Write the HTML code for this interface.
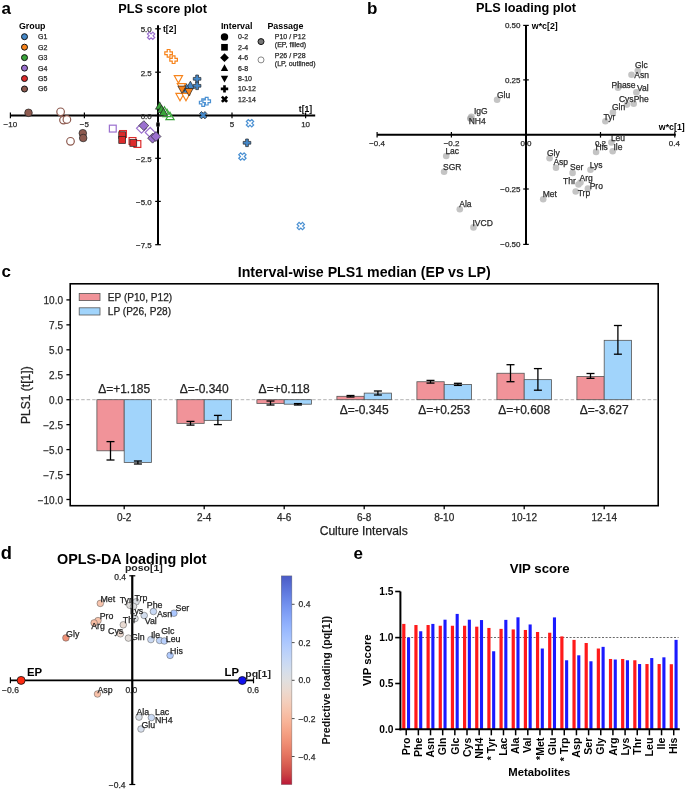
<!DOCTYPE html>
<html><head><meta charset="utf-8"><style>
html,body{margin:0;padding:0;background:#fff;}
svg{display:block;font-family:"Liberation Sans", sans-serif;will-change:transform;}
</style></head><body>
<svg width="685" height="789" viewBox="0 0 685 789">
<rect width="685" height="789" fill="#fff"/>
<text x="1.50" y="13.50" font-size="17" font-weight="bold" text-anchor="start" fill="#000">a</text>
<text x="367.00" y="13.50" font-size="17" font-weight="bold" text-anchor="start" fill="#000">b</text>
<text x="1.50" y="277.30" font-size="17" font-weight="bold" text-anchor="start" fill="#000">c</text>
<text x="353.50" y="558.80" font-size="17" font-weight="bold" text-anchor="start" fill="#000">e</text>
<text x="0.80" y="559.40" font-size="17.5" font-weight="bold" text-anchor="start" fill="#000" textLength="11.2" lengthAdjust="spacingAndGlyphs">d</text>
<text x="162.60" y="13.30" font-size="12.7" font-weight="bold" text-anchor="middle" fill="#000">PLS score plot</text>
<line x1="10.20" y1="115.40" x2="315.20" y2="115.40" stroke="#000" stroke-width="2"/>
<line x1="158.00" y1="25.30" x2="158.00" y2="244.80" stroke="#000" stroke-width="2"/>
<line x1="10.40" y1="112.60" x2="10.40" y2="118.20" stroke="#000" stroke-width="1.2"/>
<line x1="84.40" y1="112.60" x2="84.40" y2="118.20" stroke="#000" stroke-width="1.2"/>
<line x1="158.00" y1="112.60" x2="158.00" y2="118.20" stroke="#000" stroke-width="1.2"/>
<line x1="232.00" y1="112.60" x2="232.00" y2="118.20" stroke="#000" stroke-width="1.2"/>
<line x1="305.60" y1="112.60" x2="305.60" y2="118.20" stroke="#000" stroke-width="1.2"/>
<line x1="155.20" y1="28.80" x2="160.80" y2="28.80" stroke="#000" stroke-width="1.2"/>
<line x1="155.20" y1="72.20" x2="160.80" y2="72.20" stroke="#000" stroke-width="1.2"/>
<line x1="155.20" y1="115.50" x2="160.80" y2="115.50" stroke="#000" stroke-width="1.2"/>
<line x1="155.20" y1="158.30" x2="160.80" y2="158.30" stroke="#000" stroke-width="1.2"/>
<line x1="155.20" y1="201.40" x2="160.80" y2="201.40" stroke="#000" stroke-width="1.2"/>
<line x1="155.20" y1="244.70" x2="160.80" y2="244.70" stroke="#000" stroke-width="1.2"/>
<text x="10.40" y="127.14" font-size="8.0" text-anchor="middle" fill="#2a2a2a" stroke="#2a2a2a" stroke-width="0.25">−10</text>
<text x="84.40" y="127.14" font-size="8.0" text-anchor="middle" fill="#2a2a2a" stroke="#2a2a2a" stroke-width="0.25">−5</text>
<text x="158.00" y="127.14" font-size="8.0" text-anchor="middle" fill="#2a2a2a" stroke="#2a2a2a" stroke-width="0.25">0</text>
<text x="232.00" y="127.14" font-size="8.0" text-anchor="middle" fill="#2a2a2a" stroke="#2a2a2a" stroke-width="0.25">5</text>
<text x="305.60" y="127.14" font-size="8.0" text-anchor="middle" fill="#2a2a2a" stroke="#2a2a2a" stroke-width="0.25">10</text>
<text x="151.80" y="32.14" font-size="8.0" text-anchor="end" fill="#2a2a2a" stroke="#2a2a2a" stroke-width="0.25">5.0</text>
<text x="151.80" y="75.54" font-size="8.0" text-anchor="end" fill="#2a2a2a" stroke="#2a2a2a" stroke-width="0.25">2.5</text>
<text x="151.80" y="118.84" font-size="8.0" text-anchor="end" fill="#2a2a2a" stroke="#2a2a2a" stroke-width="0.25">0.0</text>
<text x="151.80" y="161.64" font-size="8.0" text-anchor="end" fill="#2a2a2a" stroke="#2a2a2a" stroke-width="0.25">−2.5</text>
<text x="151.80" y="204.74" font-size="8.0" text-anchor="end" fill="#2a2a2a" stroke="#2a2a2a" stroke-width="0.25">−5.0</text>
<text x="151.80" y="248.04" font-size="8.0" text-anchor="end" fill="#2a2a2a" stroke="#2a2a2a" stroke-width="0.25">−7.5</text>
<text x="163.00" y="32.30" font-size="8.6" font-weight="bold" text-anchor="start" fill="#000">t[2]</text>
<text x="298.80" y="112.40" font-size="8.6" font-weight="bold" text-anchor="start" fill="#000">t[1]</text>
<text x="18.90" y="28.90" font-size="8.9" font-weight="bold" text-anchor="start" fill="#000">Group</text>
<circle cx="24.50" cy="36.70" r="3.0" fill="#4588c8" stroke="#111" stroke-width="1.0"/>
<text x="38.00" y="39.19" font-size="7" text-anchor="start" fill="#2a2a2a" stroke="#2a2a2a" stroke-width="0.25">G1</text>
<circle cx="24.50" cy="47.16" r="3.0" fill="#f7841c" stroke="#111" stroke-width="1.0"/>
<text x="38.00" y="49.65" font-size="7" text-anchor="start" fill="#2a2a2a" stroke="#2a2a2a" stroke-width="0.25">G2</text>
<circle cx="24.50" cy="57.62" r="3.0" fill="#3aa53a" stroke="#111" stroke-width="1.0"/>
<text x="38.00" y="60.11" font-size="7" text-anchor="start" fill="#2a2a2a" stroke="#2a2a2a" stroke-width="0.25">G3</text>
<circle cx="24.50" cy="68.08" r="3.0" fill="#9b70cf" stroke="#111" stroke-width="1.0"/>
<text x="38.00" y="70.57" font-size="7" text-anchor="start" fill="#2a2a2a" stroke="#2a2a2a" stroke-width="0.25">G4</text>
<circle cx="24.50" cy="78.54" r="3.0" fill="#dc2b2b" stroke="#111" stroke-width="1.0"/>
<text x="38.00" y="81.03" font-size="7" text-anchor="start" fill="#2a2a2a" stroke="#2a2a2a" stroke-width="0.25">G5</text>
<circle cx="24.50" cy="89.00" r="3.0" fill="#8d5a4f" stroke="#111" stroke-width="1.0"/>
<text x="38.00" y="91.48" font-size="7" text-anchor="start" fill="#2a2a2a" stroke="#2a2a2a" stroke-width="0.25">G6</text>
<text x="220.90" y="29.00" font-size="8.9" font-weight="bold" text-anchor="start" fill="#000">Interval</text>
<circle cx="224.50" cy="36.90" r="3.7" fill="#000" stroke="none" stroke-width="0"/>
<text x="238.00" y="39.38" font-size="7" text-anchor="start" fill="#2a2a2a" stroke="#2a2a2a" stroke-width="0.25">0-2</text>
<rect x="221.17" y="43.97" width="6.66" height="6.66" fill="#000" stroke="none" stroke-width="0"/>
<text x="238.00" y="49.78" font-size="7" text-anchor="start" fill="#2a2a2a" stroke="#2a2a2a" stroke-width="0.25">2-4</text>
<path d="M224.50,53.33L228.87,57.70L224.50,62.07L220.13,57.70Z" fill="#000" stroke="none" stroke-width="0"/>
<text x="238.00" y="60.19" font-size="7" text-anchor="start" fill="#2a2a2a" stroke="#2a2a2a" stroke-width="0.25">4-6</text>
<path d="M224.50,64.21L228.20,70.88L220.80,70.88Z" fill="#000" stroke="none" stroke-width="0"/>
<text x="238.00" y="70.58" font-size="7" text-anchor="start" fill="#2a2a2a" stroke="#2a2a2a" stroke-width="0.25">6-8</text>
<path d="M224.50,82.39L228.20,75.72L220.80,75.72Z" fill="#000" stroke="none" stroke-width="0"/>
<text x="238.00" y="80.98" font-size="7" text-anchor="start" fill="#2a2a2a" stroke="#2a2a2a" stroke-width="0.25">8-10</text>
<path d="M223.17,85.20H225.83V87.57H228.20V90.23H225.83V92.60H223.17V90.23H220.80V87.57H223.17Z" fill="#000" stroke="none" stroke-width="0"/>
<text x="238.00" y="91.39" font-size="7" text-anchor="start" fill="#2a2a2a" stroke="#2a2a2a" stroke-width="0.25">10-12</text>
<path d="M223.17,95.60H225.83V97.97H228.20V100.63H225.83V103.00H223.17V100.63H220.80V97.97H223.17Z" fill="#000" stroke="none" stroke-width="0" transform="rotate(45 224.50 99.30)"/>
<text x="238.00" y="101.79" font-size="7" text-anchor="start" fill="#2a2a2a" stroke="#2a2a2a" stroke-width="0.25">12-14</text>
<text x="267.40" y="29.00" font-size="8.9" font-weight="bold" text-anchor="start" fill="#000">Passage</text>
<circle cx="261.00" cy="41.60" r="3.0" fill="#777" stroke="#111" stroke-width="1.0"/>
<circle cx="261.00" cy="59.90" r="3.0" fill="#fff" stroke="#555" stroke-width="0.7"/>
<text x="274.80" y="39.38" font-size="7" text-anchor="start" fill="#2a2a2a" stroke="#2a2a2a" stroke-width="0.25">P10 / P12</text>
<text x="274.80" y="47.48" font-size="7" text-anchor="start" fill="#2a2a2a" stroke="#2a2a2a" stroke-width="0.25">(EP, filled)</text>
<text x="274.80" y="57.78" font-size="7" text-anchor="start" fill="#2a2a2a" stroke="#2a2a2a" stroke-width="0.25">P26 / P28</text>
<text x="274.80" y="65.89" font-size="7" text-anchor="start" fill="#2a2a2a" stroke="#2a2a2a" stroke-width="0.25">(LP, outlined)</text>
<circle cx="28.50" cy="112.80" r="3.8" fill="#8d5a4f" stroke="#222" stroke-width="0.7"/>
<circle cx="60.60" cy="111.80" r="3.8" fill="#fff" stroke="#8d5a4f" stroke-width="1.2"/>
<circle cx="63.50" cy="120.10" r="3.8" fill="#fff" stroke="#8d5a4f" stroke-width="1.2"/>
<circle cx="66.90" cy="119.50" r="3.8" fill="#fff" stroke="#8d5a4f" stroke-width="1.2"/>
<circle cx="70.50" cy="141.30" r="3.8" fill="#fff" stroke="#8d5a4f" stroke-width="1.2"/>
<circle cx="82.80" cy="133.20" r="3.8" fill="#8d5a4f" stroke="#222" stroke-width="0.7"/>
<circle cx="83.20" cy="138.00" r="3.8" fill="#8d5a4f" stroke="#222" stroke-width="0.7"/>
<rect x="109.38" y="125.18" width="6.84" height="6.84" fill="#fff" stroke="#9b70cf" stroke-width="1.2"/>
<rect x="119.58" y="130.58" width="6.84" height="6.84" fill="#fff" stroke="#dc2b2b" stroke-width="1.2"/>
<rect x="118.78" y="131.78" width="6.84" height="6.84" fill="#dc2b2b" stroke="#222" stroke-width="0.7"/>
<rect x="118.78" y="136.58" width="6.84" height="6.84" fill="#dc2b2b" stroke="#222" stroke-width="0.7"/>
<rect x="129.08" y="137.58" width="6.84" height="6.84" fill="#fff" stroke="#dc2b2b" stroke-width="1.2"/>
<rect x="133.98" y="140.58" width="6.84" height="6.84" fill="#fff" stroke="#dc2b2b" stroke-width="1.2"/>
<rect x="129.88" y="139.48" width="6.84" height="6.84" fill="#dc2b2b" stroke="#222" stroke-width="0.7"/>
<path d="M141.50,123.36L146.44,128.30L141.50,133.25L136.56,128.30Z" fill="#fff" stroke="#9b70cf" stroke-width="1.2"/>
<path d="M143.80,120.66L148.75,125.60L143.80,130.54L138.86,125.60Z" fill="#9b70cf" stroke="#222" stroke-width="0.7"/>
<path d="M150.20,127.46L155.14,132.40L150.20,137.34L145.25,132.40Z" fill="#fff" stroke="#9b70cf" stroke-width="1.2"/>
<path d="M152.60,133.25L157.54,138.20L152.60,143.14L147.66,138.20Z" fill="#9b70cf" stroke="#222" stroke-width="0.7"/>
<path d="M156.00,131.56L160.94,136.50L156.00,141.44L151.06,136.50Z" fill="#9b70cf" stroke="#222" stroke-width="0.7"/>
<path d="M149.73,32.00H152.47V34.43H154.90V37.17H152.47V39.60H149.73V37.17H147.30V34.43H149.73Z" fill="#fff" stroke="#9b70cf" stroke-width="1.2" transform="rotate(45 151.10 35.80)"/>
<path d="M170.00,112.29L174.10,119.67L165.90,119.67Z" fill="#fff" stroke="#3aa53a" stroke-width="1.2"/>
<path d="M167.00,109.19L171.10,116.58L162.90,116.58Z" fill="#fff" stroke="#3aa53a" stroke-width="1.2"/>
<path d="M164.50,106.69L168.60,114.08L160.40,114.08Z" fill="#fff" stroke="#3aa53a" stroke-width="1.2"/>
<path d="M159.60,101.79L163.70,109.17L155.50,109.17Z" fill="#3aa53a" stroke="#222" stroke-width="0.7"/>
<path d="M161.50,105.19L165.60,112.58L157.40,112.58Z" fill="#3aa53a" stroke="#222" stroke-width="0.7"/>
<path d="M163.50,108.19L167.60,115.58L159.40,115.58Z" fill="#3aa53a" stroke="#222" stroke-width="0.7"/>
<path d="M167.23,49.50H169.97V51.93H172.40V54.67H169.97V57.10H167.23V54.67H164.80V51.93H167.23Z" fill="#fff" stroke="#f7841c" stroke-width="1.2"/>
<path d="M172.23,55.90H174.97V58.33H177.40V61.07H174.97V63.50H172.23V61.07H169.80V58.33H172.23Z" fill="#fff" stroke="#f7841c" stroke-width="1.2"/>
<path d="M190.40,81.19L194.50,88.58L186.30,88.58Z" fill="#4588c8" stroke="#222" stroke-width="0.7"/>
<path d="M186.40,83.69L190.50,91.08L182.30,91.08Z" fill="#4588c8" stroke="#222" stroke-width="0.7"/>
<path d="M186.00,87.69L190.10,95.08L181.90,95.08Z" fill="#4588c8" stroke="#222" stroke-width="0.7"/>
<path d="M178.40,83.10L182.50,75.72L174.30,75.72Z" fill="#fff" stroke="#f7841c" stroke-width="1.2"/>
<path d="M181.40,91.10L185.50,83.72L177.30,83.72Z" fill="#fff" stroke="#f7841c" stroke-width="1.2"/>
<path d="M180.00,100.81L184.10,93.42L175.90,93.42Z" fill="#fff" stroke="#f7841c" stroke-width="1.2"/>
<path d="M186.00,100.81L190.10,93.42L181.90,93.42Z" fill="#fff" stroke="#f7841c" stroke-width="1.2"/>
<path d="M182.00,93.50L186.10,86.12L177.90,86.12Z" fill="#f7841c" stroke="#222" stroke-width="0.7"/>
<path d="M189.00,95.91L193.10,88.52L184.90,88.52Z" fill="#f7841c" stroke="#222" stroke-width="0.7"/>
<path d="M195.73,75.00H198.47V77.43H200.90V80.17H198.47V82.60H195.73V80.17H193.30V77.43H195.73Z" fill="#4588c8" stroke="#222" stroke-width="0.7"/>
<path d="M195.73,82.00H198.47V84.43H200.90V87.17H198.47V89.60H195.73V87.17H193.30V84.43H195.73Z" fill="#4588c8" stroke="#222" stroke-width="0.7"/>
<path d="M201.83,98.80H204.57V101.23H207.00V103.97H204.57V106.40H201.83V103.97H199.40V101.23H201.83Z" fill="#fff" stroke="#4a90d2" stroke-width="1.2"/>
<path d="M205.33,97.40H208.07V99.83H210.50V102.57H208.07V105.00H205.33V102.57H202.90V99.83H205.33Z" fill="#fff" stroke="#4a90d2" stroke-width="1.2"/>
<path d="M201.83,111.40H204.57V113.83H207.00V116.57H204.57V119.00H201.83V116.57H199.40V113.83H201.83Z" fill="#4588c8" stroke="#222" stroke-width="0.7" transform="rotate(45 203.20 115.20)"/>
<path d="M248.63,119.40H251.37V121.83H253.80V124.57H251.37V127.00H248.63V124.57H246.20V121.83H248.63Z" fill="#fff" stroke="#4a90d2" stroke-width="1.2" transform="rotate(45 250.00 123.20)"/>
<path d="M245.63,139.00H248.37V141.43H250.80V144.17H248.37V146.60H245.63V144.17H243.20V141.43H245.63Z" fill="#4588c8" stroke="#222" stroke-width="0.7"/>
<path d="M241.03,152.70H243.77V155.13H246.20V157.87H243.77V160.30H241.03V157.87H238.60V155.13H241.03Z" fill="#fff" stroke="#4a90d2" stroke-width="1.2" transform="rotate(45 242.40 156.50)"/>
<path d="M299.43,222.30H302.17V224.73H304.60V227.47H302.17V229.90H299.43V227.47H297.00V224.73H299.43Z" fill="#fff" stroke="#4a90d2" stroke-width="1.2" transform="rotate(45 300.80 226.10)"/>
<text x="526.00" y="12.40" font-size="12.7" font-weight="bold" text-anchor="middle" fill="#000">PLS loading plot</text>
<line x1="377.10" y1="134.80" x2="675.80" y2="134.80" stroke="#000" stroke-width="2"/>
<line x1="526.00" y1="25.40" x2="526.00" y2="244.60" stroke="#000" stroke-width="2"/>
<line x1="377.10" y1="132.00" x2="377.10" y2="137.60" stroke="#000" stroke-width="1.2"/>
<line x1="451.40" y1="132.00" x2="451.40" y2="137.60" stroke="#000" stroke-width="1.2"/>
<line x1="526.00" y1="132.00" x2="526.00" y2="137.60" stroke="#000" stroke-width="1.2"/>
<line x1="600.50" y1="132.00" x2="600.50" y2="137.60" stroke="#000" stroke-width="1.2"/>
<line x1="674.80" y1="132.00" x2="674.80" y2="137.60" stroke="#000" stroke-width="1.2"/>
<line x1="523.20" y1="25.40" x2="528.80" y2="25.40" stroke="#000" stroke-width="1.2"/>
<line x1="523.20" y1="79.90" x2="528.80" y2="79.90" stroke="#000" stroke-width="1.2"/>
<line x1="523.20" y1="134.60" x2="528.80" y2="134.60" stroke="#000" stroke-width="1.2"/>
<line x1="523.20" y1="189.00" x2="528.80" y2="189.00" stroke="#000" stroke-width="1.2"/>
<line x1="523.20" y1="244.40" x2="528.80" y2="244.40" stroke="#000" stroke-width="1.2"/>
<text x="377.10" y="145.94" font-size="8.0" text-anchor="middle" fill="#2a2a2a" stroke="#2a2a2a" stroke-width="0.25">−0.4</text>
<text x="451.60" y="145.94" font-size="8.0" text-anchor="middle" fill="#2a2a2a" stroke="#2a2a2a" stroke-width="0.25">−0.2</text>
<text x="526.00" y="145.94" font-size="8.0" text-anchor="middle" fill="#2a2a2a" stroke="#2a2a2a" stroke-width="0.25">0.0</text>
<text x="600.50" y="145.94" font-size="8.0" text-anchor="middle" fill="#2a2a2a" stroke="#2a2a2a" stroke-width="0.25">0.2</text>
<text x="674.30" y="145.94" font-size="8.0" text-anchor="middle" fill="#2a2a2a" stroke="#2a2a2a" stroke-width="0.25">0.4</text>
<text x="520.50" y="28.24" font-size="8.0" text-anchor="end" fill="#2a2a2a" stroke="#2a2a2a" stroke-width="0.25">0.50</text>
<text x="520.50" y="82.74" font-size="8.0" text-anchor="end" fill="#2a2a2a" stroke="#2a2a2a" stroke-width="0.25">0.25</text>
<text x="520.50" y="192.14" font-size="8.0" text-anchor="end" fill="#2a2a2a" stroke="#2a2a2a" stroke-width="0.25">−0.25</text>
<text x="520.50" y="247.04" font-size="8.0" text-anchor="end" fill="#2a2a2a" stroke="#2a2a2a" stroke-width="0.25">−0.50</text>
<text x="531.80" y="28.90" font-size="8.8" font-weight="bold" text-anchor="start" fill="#000">w*c[2]</text>
<text x="658.80" y="129.90" font-size="8.8" font-weight="bold" text-anchor="start" fill="#000">w*c[1]</text>
<circle cx="497.10" cy="99.80" r="3.3" fill="#c4c4c4" stroke="none" stroke-width="0.8"/>
<circle cx="471.40" cy="116.80" r="3.3" fill="#c4c4c4" stroke="none" stroke-width="0.8"/>
<circle cx="637.80" cy="70.80" r="3.3" fill="#c4c4c4" stroke="none" stroke-width="0.8"/>
<circle cx="631.50" cy="74.80" r="3.3" fill="#c4c4c4" stroke="none" stroke-width="0.8"/>
<circle cx="618.00" cy="87.80" r="3.3" fill="#c4c4c4" stroke="none" stroke-width="0.8"/>
<circle cx="636.40" cy="92.40" r="3.3" fill="#c4c4c4" stroke="none" stroke-width="0.8"/>
<circle cx="633.70" cy="103.70" r="3.3" fill="#c4c4c4" stroke="none" stroke-width="0.8"/>
<circle cx="627.00" cy="104.60" r="3.3" fill="#c4c4c4" stroke="none" stroke-width="0.8"/>
<circle cx="612.90" cy="112.60" r="3.3" fill="#c4c4c4" stroke="none" stroke-width="0.8"/>
<circle cx="605.40" cy="121.30" r="3.3" fill="#c4c4c4" stroke="none" stroke-width="0.8"/>
<circle cx="611.40" cy="142.50" r="3.3" fill="#c4c4c4" stroke="none" stroke-width="0.8"/>
<circle cx="596.10" cy="151.90" r="3.3" fill="#c4c4c4" stroke="none" stroke-width="0.8"/>
<circle cx="612.70" cy="151.20" r="3.3" fill="#c4c4c4" stroke="none" stroke-width="0.8"/>
<circle cx="549.60" cy="158.30" r="3.3" fill="#c4c4c4" stroke="none" stroke-width="0.8"/>
<circle cx="556.00" cy="167.80" r="3.3" fill="#c4c4c4" stroke="none" stroke-width="0.8"/>
<circle cx="572.60" cy="172.90" r="3.3" fill="#c4c4c4" stroke="none" stroke-width="0.8"/>
<circle cx="590.50" cy="169.80" r="3.3" fill="#c4c4c4" stroke="none" stroke-width="0.8"/>
<circle cx="578.50" cy="184.50" r="3.3" fill="#c4c4c4" stroke="none" stroke-width="0.8"/>
<circle cx="580.50" cy="182.50" r="3.3" fill="#c4c4c4" stroke="none" stroke-width="0.8"/>
<circle cx="587.90" cy="188.50" r="3.3" fill="#c4c4c4" stroke="none" stroke-width="0.8"/>
<circle cx="575.70" cy="191.50" r="3.3" fill="#c4c4c4" stroke="none" stroke-width="0.8"/>
<circle cx="543.20" cy="199.20" r="3.3" fill="#c4c4c4" stroke="none" stroke-width="0.8"/>
<circle cx="446.20" cy="156.00" r="3.3" fill="#c4c4c4" stroke="none" stroke-width="0.8"/>
<circle cx="444.10" cy="171.70" r="3.3" fill="#c4c4c4" stroke="none" stroke-width="0.8"/>
<circle cx="459.80" cy="209.30" r="3.3" fill="#c4c4c4" stroke="none" stroke-width="0.8"/>
<circle cx="473.50" cy="227.40" r="3.3" fill="#c4c4c4" stroke="none" stroke-width="0.8"/>
<circle cx="470.50" cy="118.50" r="3.3" fill="#aaaaaa" stroke="none" stroke-width="0.8"/>
<text x="497.00" y="97.62" font-size="8.5" text-anchor="start" fill="#2a2a2a" stroke="#2a2a2a" stroke-width="0.25">Glu</text>
<text x="474.00" y="114.02" font-size="8.5" text-anchor="start" fill="#2a2a2a" stroke="#2a2a2a" stroke-width="0.25">IgG</text>
<text x="468.70" y="123.92" font-size="8.5" text-anchor="start" fill="#2a2a2a" stroke="#2a2a2a" stroke-width="0.25">NH4</text>
<text x="635.00" y="67.92" font-size="8.5" text-anchor="start" fill="#2a2a2a" stroke="#2a2a2a" stroke-width="0.25">Glc</text>
<text x="634.30" y="78.42" font-size="8.5" text-anchor="start" fill="#2a2a2a" stroke="#2a2a2a" stroke-width="0.25">Asn</text>
<text x="611.50" y="87.92" font-size="8.5" text-anchor="start" fill="#2a2a2a" stroke="#2a2a2a" stroke-width="0.25">Phase</text>
<text x="637.00" y="91.32" font-size="8.5" text-anchor="start" fill="#2a2a2a" stroke="#2a2a2a" stroke-width="0.25">Val</text>
<text x="633.70" y="101.62" font-size="8.5" text-anchor="start" fill="#2a2a2a" stroke="#2a2a2a" stroke-width="0.25">Phe</text>
<text x="618.90" y="101.62" font-size="8.5" text-anchor="start" fill="#2a2a2a" stroke="#2a2a2a" stroke-width="0.25">Cys</text>
<text x="612.00" y="110.32" font-size="8.5" text-anchor="start" fill="#2a2a2a" stroke="#2a2a2a" stroke-width="0.25">Gln</text>
<text x="603.50" y="120.32" font-size="8.5" text-anchor="start" fill="#2a2a2a" stroke="#2a2a2a" stroke-width="0.25">Tyr</text>
<text x="610.90" y="140.92" font-size="8.5" text-anchor="start" fill="#2a2a2a" stroke="#2a2a2a" stroke-width="0.25">Leu</text>
<text x="595.60" y="149.82" font-size="8.5" text-anchor="start" fill="#2a2a2a" stroke="#2a2a2a" stroke-width="0.25">His</text>
<text x="613.50" y="149.82" font-size="8.5" text-anchor="start" fill="#2a2a2a" stroke="#2a2a2a" stroke-width="0.25">Ile</text>
<text x="547.00" y="155.72" font-size="8.5" text-anchor="start" fill="#2a2a2a" stroke="#2a2a2a" stroke-width="0.25">Gly</text>
<text x="553.40" y="164.62" font-size="8.5" text-anchor="start" fill="#2a2a2a" stroke="#2a2a2a" stroke-width="0.25">Asp</text>
<text x="570.00" y="169.82" font-size="8.5" text-anchor="start" fill="#2a2a2a" stroke="#2a2a2a" stroke-width="0.25">Ser</text>
<text x="589.70" y="168.22" font-size="8.5" text-anchor="start" fill="#2a2a2a" stroke="#2a2a2a" stroke-width="0.25">Lys</text>
<text x="563.10" y="183.82" font-size="8.5" text-anchor="start" fill="#2a2a2a" stroke="#2a2a2a" stroke-width="0.25">Thr</text>
<text x="579.50" y="181.32" font-size="8.5" text-anchor="start" fill="#2a2a2a" stroke="#2a2a2a" stroke-width="0.25">Arg</text>
<text x="589.70" y="189.42" font-size="8.5" text-anchor="start" fill="#2a2a2a" stroke="#2a2a2a" stroke-width="0.25">Pro</text>
<text x="577.70" y="195.82" font-size="8.5" text-anchor="start" fill="#2a2a2a" stroke="#2a2a2a" stroke-width="0.25">Trp</text>
<text x="542.70" y="197.12" font-size="8.5" text-anchor="start" fill="#2a2a2a" stroke="#2a2a2a" stroke-width="0.25">Met</text>
<text x="445.40" y="153.72" font-size="8.5" text-anchor="start" fill="#2a2a2a" stroke="#2a2a2a" stroke-width="0.25">Lac</text>
<text x="443.00" y="169.52" font-size="8.5" text-anchor="start" fill="#2a2a2a" stroke="#2a2a2a" stroke-width="0.25">SGR</text>
<text x="459.30" y="207.02" font-size="8.5" text-anchor="start" fill="#2a2a2a" stroke="#2a2a2a" stroke-width="0.25">Ala</text>
<text x="472.50" y="225.52" font-size="8.5" text-anchor="start" fill="#2a2a2a" stroke="#2a2a2a" stroke-width="0.25">IVCD</text>
<text x="364.20" y="277.40" font-size="14.2" font-weight="bold" text-anchor="middle" fill="#000">Interval-wise PLS1 median (EP vs LP)</text>
<line x1="70.20" y1="399.70" x2="658.20" y2="399.70" stroke="#aaa" stroke-width="0.9" stroke-dasharray="3.5,2"/>
<rect x="96.90" y="399.70" width="27.30" height="51.10" fill="#f19399" stroke="#555" stroke-width="0.8"/>
<rect x="124.20" y="399.70" width="27.30" height="62.77" fill="#a1d4fb" stroke="#555" stroke-width="0.8"/>
<line x1="110.50" y1="441.60" x2="110.50" y2="460.00" stroke="#000" stroke-width="1.3"/>
<line x1="106.50" y1="441.60" x2="114.50" y2="441.60" stroke="#000" stroke-width="1.3"/>
<line x1="106.50" y1="460.00" x2="114.50" y2="460.00" stroke="#000" stroke-width="1.3"/>
<line x1="137.90" y1="461.00" x2="137.90" y2="464.00" stroke="#000" stroke-width="1.3"/>
<line x1="133.90" y1="461.00" x2="141.90" y2="461.00" stroke="#000" stroke-width="1.3"/>
<line x1="133.90" y1="464.00" x2="141.90" y2="464.00" stroke="#000" stroke-width="1.3"/>
<text x="124.20" y="392.90" font-size="12" text-anchor="middle" fill="#222" stroke="#222" stroke-width="0.25">Δ=+1.185</text>
<rect x="176.90" y="399.70" width="27.30" height="23.65" fill="#f19399" stroke="#555" stroke-width="0.8"/>
<rect x="204.20" y="399.70" width="27.30" height="20.66" fill="#a1d4fb" stroke="#555" stroke-width="0.8"/>
<line x1="190.50" y1="421.40" x2="190.50" y2="425.10" stroke="#000" stroke-width="1.3"/>
<line x1="186.50" y1="421.40" x2="194.50" y2="421.40" stroke="#000" stroke-width="1.3"/>
<line x1="186.50" y1="425.10" x2="194.50" y2="425.10" stroke="#000" stroke-width="1.3"/>
<line x1="217.90" y1="415.40" x2="217.90" y2="424.60" stroke="#000" stroke-width="1.3"/>
<line x1="213.90" y1="415.40" x2="221.90" y2="415.40" stroke="#000" stroke-width="1.3"/>
<line x1="213.90" y1="424.60" x2="221.90" y2="424.60" stroke="#000" stroke-width="1.3"/>
<text x="204.20" y="392.90" font-size="12" text-anchor="middle" fill="#222" stroke="#222" stroke-width="0.25">Δ=-0.340</text>
<rect x="256.90" y="399.70" width="27.30" height="3.69" fill="#f19399" stroke="#555" stroke-width="0.8"/>
<rect x="284.20" y="399.70" width="27.30" height="4.49" fill="#a1d4fb" stroke="#555" stroke-width="0.8"/>
<line x1="270.50" y1="401.00" x2="270.50" y2="405.00" stroke="#000" stroke-width="1.3"/>
<line x1="266.50" y1="401.00" x2="274.50" y2="401.00" stroke="#000" stroke-width="1.3"/>
<line x1="266.50" y1="405.00" x2="274.50" y2="405.00" stroke="#000" stroke-width="1.3"/>
<line x1="297.90" y1="403.60" x2="297.90" y2="405.00" stroke="#000" stroke-width="1.3"/>
<line x1="293.90" y1="403.60" x2="301.90" y2="403.60" stroke="#000" stroke-width="1.3"/>
<line x1="293.90" y1="405.00" x2="301.90" y2="405.00" stroke="#000" stroke-width="1.3"/>
<text x="284.20" y="392.90" font-size="12" text-anchor="middle" fill="#222" stroke="#222" stroke-width="0.25">Δ=+0.118</text>
<rect x="336.90" y="396.31" width="27.30" height="3.39" fill="#f19399" stroke="#555" stroke-width="0.8"/>
<rect x="364.20" y="393.11" width="27.30" height="6.59" fill="#a1d4fb" stroke="#555" stroke-width="0.8"/>
<line x1="350.50" y1="395.50" x2="350.50" y2="397.00" stroke="#000" stroke-width="1.3"/>
<line x1="346.50" y1="395.50" x2="354.50" y2="395.50" stroke="#000" stroke-width="1.3"/>
<line x1="346.50" y1="397.00" x2="354.50" y2="397.00" stroke="#000" stroke-width="1.3"/>
<line x1="377.90" y1="391.00" x2="377.90" y2="395.00" stroke="#000" stroke-width="1.3"/>
<line x1="373.90" y1="391.00" x2="381.90" y2="391.00" stroke="#000" stroke-width="1.3"/>
<line x1="373.90" y1="395.00" x2="381.90" y2="395.00" stroke="#000" stroke-width="1.3"/>
<text x="364.20" y="414.00" font-size="12" text-anchor="middle" fill="#222" stroke="#222" stroke-width="0.25">Δ=-0.345</text>
<rect x="416.90" y="381.74" width="27.30" height="17.96" fill="#f19399" stroke="#555" stroke-width="0.8"/>
<rect x="444.20" y="384.43" width="27.30" height="15.27" fill="#a1d4fb" stroke="#555" stroke-width="0.8"/>
<line x1="430.50" y1="380.40" x2="430.50" y2="383.10" stroke="#000" stroke-width="1.3"/>
<line x1="426.50" y1="380.40" x2="434.50" y2="380.40" stroke="#000" stroke-width="1.3"/>
<line x1="426.50" y1="383.10" x2="434.50" y2="383.10" stroke="#000" stroke-width="1.3"/>
<line x1="457.90" y1="383.30" x2="457.90" y2="385.40" stroke="#000" stroke-width="1.3"/>
<line x1="453.90" y1="383.30" x2="461.90" y2="383.30" stroke="#000" stroke-width="1.3"/>
<line x1="453.90" y1="385.40" x2="461.90" y2="385.40" stroke="#000" stroke-width="1.3"/>
<text x="444.20" y="414.00" font-size="12" text-anchor="middle" fill="#222" stroke="#222" stroke-width="0.25">Δ=+0.253</text>
<rect x="496.90" y="373.25" width="27.30" height="26.45" fill="#f19399" stroke="#555" stroke-width="0.8"/>
<rect x="524.20" y="379.64" width="27.30" height="20.06" fill="#a1d4fb" stroke="#555" stroke-width="0.8"/>
<line x1="510.50" y1="364.70" x2="510.50" y2="381.70" stroke="#000" stroke-width="1.3"/>
<line x1="506.50" y1="364.70" x2="514.50" y2="364.70" stroke="#000" stroke-width="1.3"/>
<line x1="506.50" y1="381.70" x2="514.50" y2="381.70" stroke="#000" stroke-width="1.3"/>
<line x1="537.90" y1="368.60" x2="537.90" y2="390.20" stroke="#000" stroke-width="1.3"/>
<line x1="533.90" y1="368.60" x2="541.90" y2="368.60" stroke="#000" stroke-width="1.3"/>
<line x1="533.90" y1="390.20" x2="541.90" y2="390.20" stroke="#000" stroke-width="1.3"/>
<text x="524.20" y="414.00" font-size="12" text-anchor="middle" fill="#222" stroke="#222" stroke-width="0.25">Δ=+0.608</text>
<rect x="576.90" y="376.45" width="27.30" height="23.25" fill="#f19399" stroke="#555" stroke-width="0.8"/>
<rect x="604.20" y="340.32" width="27.30" height="59.38" fill="#a1d4fb" stroke="#555" stroke-width="0.8"/>
<line x1="590.50" y1="373.50" x2="590.50" y2="378.30" stroke="#000" stroke-width="1.3"/>
<line x1="586.50" y1="373.50" x2="594.50" y2="373.50" stroke="#000" stroke-width="1.3"/>
<line x1="586.50" y1="378.30" x2="594.50" y2="378.30" stroke="#000" stroke-width="1.3"/>
<line x1="617.90" y1="325.50" x2="617.90" y2="354.20" stroke="#000" stroke-width="1.3"/>
<line x1="613.90" y1="325.50" x2="621.90" y2="325.50" stroke="#000" stroke-width="1.3"/>
<line x1="613.90" y1="354.20" x2="621.90" y2="354.20" stroke="#000" stroke-width="1.3"/>
<text x="604.20" y="414.00" font-size="12" text-anchor="middle" fill="#222" stroke="#222" stroke-width="0.25">Δ=-3.627</text>
<rect x="70.20" y="283.80" width="588.00" height="221.90" fill="none" stroke="#000" stroke-width="1.6"/>
<line x1="66.40" y1="299.90" x2="70.20" y2="299.90" stroke="#000" stroke-width="1.3"/>
<text x="63.00" y="304.25" font-size="10" text-anchor="end" fill="#2a2a2a" stroke="#2a2a2a" stroke-width="0.25">10.0</text>
<line x1="66.40" y1="324.85" x2="70.20" y2="324.85" stroke="#000" stroke-width="1.3"/>
<text x="63.00" y="329.20" font-size="10" text-anchor="end" fill="#2a2a2a" stroke="#2a2a2a" stroke-width="0.25">7.5</text>
<line x1="66.40" y1="349.80" x2="70.20" y2="349.80" stroke="#000" stroke-width="1.3"/>
<text x="63.00" y="354.15" font-size="10" text-anchor="end" fill="#2a2a2a" stroke="#2a2a2a" stroke-width="0.25">5.0</text>
<line x1="66.40" y1="374.75" x2="70.20" y2="374.75" stroke="#000" stroke-width="1.3"/>
<text x="63.00" y="379.10" font-size="10" text-anchor="end" fill="#2a2a2a" stroke="#2a2a2a" stroke-width="0.25">2.5</text>
<line x1="66.40" y1="399.70" x2="70.20" y2="399.70" stroke="#000" stroke-width="1.3"/>
<text x="63.00" y="404.05" font-size="10" text-anchor="end" fill="#2a2a2a" stroke="#2a2a2a" stroke-width="0.25">0.0</text>
<line x1="66.40" y1="424.65" x2="70.20" y2="424.65" stroke="#000" stroke-width="1.3"/>
<text x="63.00" y="429.00" font-size="10" text-anchor="end" fill="#2a2a2a" stroke="#2a2a2a" stroke-width="0.25">−2.5</text>
<line x1="66.40" y1="449.60" x2="70.20" y2="449.60" stroke="#000" stroke-width="1.3"/>
<text x="63.00" y="453.95" font-size="10" text-anchor="end" fill="#2a2a2a" stroke="#2a2a2a" stroke-width="0.25">−5.0</text>
<line x1="66.40" y1="474.55" x2="70.20" y2="474.55" stroke="#000" stroke-width="1.3"/>
<text x="63.00" y="478.90" font-size="10" text-anchor="end" fill="#2a2a2a" stroke="#2a2a2a" stroke-width="0.25">−7.5</text>
<line x1="66.40" y1="499.50" x2="70.20" y2="499.50" stroke="#000" stroke-width="1.3"/>
<text x="63.00" y="503.85" font-size="10" text-anchor="end" fill="#2a2a2a" stroke="#2a2a2a" stroke-width="0.25">−10.0</text>
<line x1="124.20" y1="505.70" x2="124.20" y2="509.30" stroke="#000" stroke-width="1.3"/>
<text x="124.20" y="520.85" font-size="10" text-anchor="middle" fill="#2a2a2a" stroke="#2a2a2a" stroke-width="0.25">0-2</text>
<line x1="204.20" y1="505.70" x2="204.20" y2="509.30" stroke="#000" stroke-width="1.3"/>
<text x="204.20" y="520.85" font-size="10" text-anchor="middle" fill="#2a2a2a" stroke="#2a2a2a" stroke-width="0.25">2-4</text>
<line x1="284.20" y1="505.70" x2="284.20" y2="509.30" stroke="#000" stroke-width="1.3"/>
<text x="284.20" y="520.85" font-size="10" text-anchor="middle" fill="#2a2a2a" stroke="#2a2a2a" stroke-width="0.25">4-6</text>
<line x1="364.20" y1="505.70" x2="364.20" y2="509.30" stroke="#000" stroke-width="1.3"/>
<text x="364.20" y="520.85" font-size="10" text-anchor="middle" fill="#2a2a2a" stroke="#2a2a2a" stroke-width="0.25">6-8</text>
<line x1="444.20" y1="505.70" x2="444.20" y2="509.30" stroke="#000" stroke-width="1.3"/>
<text x="444.20" y="520.85" font-size="10" text-anchor="middle" fill="#2a2a2a" stroke="#2a2a2a" stroke-width="0.25">8-10</text>
<line x1="524.20" y1="505.70" x2="524.20" y2="509.30" stroke="#000" stroke-width="1.3"/>
<text x="524.20" y="520.85" font-size="10" text-anchor="middle" fill="#2a2a2a" stroke="#2a2a2a" stroke-width="0.25">10-12</text>
<line x1="604.20" y1="505.70" x2="604.20" y2="509.30" stroke="#000" stroke-width="1.3"/>
<text x="604.20" y="520.85" font-size="10" text-anchor="middle" fill="#2a2a2a" stroke="#2a2a2a" stroke-width="0.25">12-14</text>
<text x="363.70" y="534.50" font-size="12.1" text-anchor="middle" fill="#222" stroke="#222" stroke-width="0.25">Culture Intervals</text>
<text x="30.40" y="395.20" font-size="12.1" text-anchor="middle" fill="#222" transform="rotate(-90 30.40 395.20)" stroke="#222" stroke-width="0.25">PLS1 (t[1])</text>
<rect x="79.20" y="293.40" width="20.80" height="7.20" fill="#f19399" stroke="#555" stroke-width="0.8"/>
<rect x="79.20" y="307.80" width="20.80" height="7.20" fill="#a1d4fb" stroke="#555" stroke-width="0.8"/>
<text x="107.80" y="300.59" font-size="10.1" text-anchor="start" fill="#222" stroke="#222" stroke-width="0.25">EP (P10, P12)</text>
<text x="107.80" y="314.99" font-size="10.1" text-anchor="start" fill="#222" stroke="#222" stroke-width="0.25">LP (P26, P28)</text>
<text x="131.80" y="564.10" font-size="14" font-weight="bold" text-anchor="middle" fill="#000" textLength="149.5" lengthAdjust="spacingAndGlyphs">OPLS-DA loading plot</text>
<line x1="10.40" y1="680.30" x2="253.50" y2="680.30" stroke="#000" stroke-width="1.8"/>
<line x1="132.30" y1="575.50" x2="132.30" y2="784.80" stroke="#000" stroke-width="1.8"/>
<line x1="10.40" y1="677.30" x2="10.40" y2="683.30" stroke="#000" stroke-width="1.2"/>
<line x1="253.50" y1="677.30" x2="253.50" y2="683.30" stroke="#000" stroke-width="1.2"/>
<line x1="129.30" y1="575.80" x2="135.30" y2="575.80" stroke="#000" stroke-width="1.2"/>
<line x1="129.30" y1="784.50" x2="135.30" y2="784.50" stroke="#000" stroke-width="1.2"/>
<text x="143.90" y="570.71" font-size="9.6" font-weight="bold" text-anchor="middle" fill="#222" textLength="38" lengthAdjust="spacingAndGlyphs">poso[1]</text>
<text x="126.00" y="579.52" font-size="8.5" text-anchor="end" fill="#2a2a2a" stroke="#2a2a2a" stroke-width="0.25">0.4</text>
<text x="125.50" y="788.32" font-size="8.5" text-anchor="end" fill="#2a2a2a" stroke="#2a2a2a" stroke-width="0.25">−0.4</text>
<text x="10.50" y="692.82" font-size="8.5" text-anchor="middle" fill="#2a2a2a" stroke="#2a2a2a" stroke-width="0.25">−0.6</text>
<text x="131.30" y="692.82" font-size="8.5" text-anchor="middle" fill="#2a2a2a" stroke="#2a2a2a" stroke-width="0.25">0.0</text>
<text x="253.10" y="692.62" font-size="8.5" text-anchor="middle" fill="#2a2a2a" stroke="#2a2a2a" stroke-width="0.25">0.6</text>
<circle cx="100.30" cy="603.40" r="3.3" fill="#f7c4ad" stroke="#555" stroke-width="0.5"/>
<circle cx="136.10" cy="601.80" r="3.3" fill="#dcdfe5" stroke="#555" stroke-width="0.5"/>
<circle cx="129.90" cy="605.30" r="3.3" fill="#e2dfdd" stroke="#555" stroke-width="0.5"/>
<circle cx="133.50" cy="606.40" r="3.3" fill="#dfe0e2" stroke="#555" stroke-width="0.5"/>
<circle cx="153.40" cy="611.50" r="3.3" fill="#c8d9f5" stroke="#555" stroke-width="0.5"/>
<circle cx="173.90" cy="613.20" r="3.3" fill="#abc7ff" stroke="#555" stroke-width="0.5"/>
<circle cx="135.00" cy="618.60" r="3.3" fill="#dde0e4" stroke="#555" stroke-width="0.5"/>
<circle cx="144.20" cy="615.50" r="3.3" fill="#d3dded" stroke="#555" stroke-width="0.5"/>
<circle cx="123.30" cy="624.80" r="3.3" fill="#e9dbd3" stroke="#555" stroke-width="0.5"/>
<circle cx="98.00" cy="620.60" r="3.3" fill="#f7c2aa" stroke="#555" stroke-width="0.5"/>
<circle cx="94.10" cy="622.90" r="3.3" fill="#f8bda3" stroke="#555" stroke-width="0.5"/>
<circle cx="120.40" cy="633.80" r="3.3" fill="#ecd9cf" stroke="#555" stroke-width="0.5"/>
<circle cx="65.90" cy="637.90" r="3.3" fill="#ef9177" stroke="#555" stroke-width="0.5"/>
<circle cx="128.40" cy="638.10" r="3.3" fill="#e4deda" stroke="#555" stroke-width="0.5"/>
<circle cx="150.90" cy="639.60" r="3.3" fill="#cbdaf3" stroke="#555" stroke-width="0.5"/>
<circle cx="159.60" cy="640.40" r="3.3" fill="#c0d5f9" stroke="#555" stroke-width="0.5"/>
<circle cx="164.30" cy="641.00" r="3.3" fill="#b9d0fc" stroke="#555" stroke-width="0.5"/>
<circle cx="170.10" cy="655.40" r="3.3" fill="#b1cbfe" stroke="#555" stroke-width="0.5"/>
<circle cx="97.50" cy="694.00" r="3.3" fill="#f8c1a9" stroke="#555" stroke-width="0.5"/>
<circle cx="139.00" cy="717.10" r="3.3" fill="#d9dfe8" stroke="#555" stroke-width="0.5"/>
<circle cx="151.40" cy="717.60" r="3.3" fill="#cadaf4" stroke="#555" stroke-width="0.5"/>
<circle cx="141.00" cy="729.00" r="3.3" fill="#d6deeb" stroke="#555" stroke-width="0.5"/>
<line x1="132.30" y1="575.50" x2="132.30" y2="784.80" stroke="#000" stroke-width="1.8"/>
<text x="100.50" y="602.42" font-size="8.8" text-anchor="start" fill="#222" stroke="#222" stroke-width="0.25">Met</text>
<text x="134.50" y="600.82" font-size="8.8" text-anchor="start" fill="#222" stroke="#222" stroke-width="0.25">Trp</text>
<text x="119.70" y="603.32" font-size="8.8" text-anchor="start" fill="#222" stroke="#222" stroke-width="0.25">Tyr</text>
<text x="146.80" y="607.92" font-size="8.8" text-anchor="start" fill="#222" stroke="#222" stroke-width="0.25">Phe</text>
<text x="175.60" y="611.12" font-size="8.8" text-anchor="start" fill="#222" stroke="#222" stroke-width="0.25">Ser</text>
<text x="157.00" y="617.12" font-size="8.8" text-anchor="start" fill="#222" stroke="#222" stroke-width="0.25">Asn</text>
<text x="129.90" y="614.12" font-size="8.8" text-anchor="start" fill="#222" stroke="#222" stroke-width="0.25">Lys</text>
<text x="144.70" y="624.32" font-size="8.8" text-anchor="start" fill="#222" stroke="#222" stroke-width="0.25">Val</text>
<text x="122.80" y="623.22" font-size="8.8" text-anchor="start" fill="#222" stroke="#222" stroke-width="0.25">Thr</text>
<text x="99.70" y="619.42" font-size="8.8" text-anchor="start" fill="#222" stroke="#222" stroke-width="0.25">Pro</text>
<text x="91.20" y="628.72" font-size="8.8" text-anchor="start" fill="#222" stroke="#222" stroke-width="0.25">Arg</text>
<text x="108.10" y="634.02" font-size="8.8" text-anchor="start" fill="#222" stroke="#222" stroke-width="0.25">Cys</text>
<text x="66.10" y="636.92" font-size="8.8" text-anchor="start" fill="#222" stroke="#222" stroke-width="0.25">Gly</text>
<text x="131.00" y="639.52" font-size="8.8" text-anchor="start" fill="#222" stroke="#222" stroke-width="0.25">Gln</text>
<text x="150.90" y="638.32" font-size="8.8" text-anchor="start" fill="#222" stroke="#222" stroke-width="0.25">Ile</text>
<text x="161.20" y="633.62" font-size="8.8" text-anchor="start" fill="#222" stroke="#222" stroke-width="0.25">Glc</text>
<text x="165.80" y="642.42" font-size="8.8" text-anchor="start" fill="#222" stroke="#222" stroke-width="0.25">Leu</text>
<text x="170.10" y="654.42" font-size="8.8" text-anchor="start" fill="#222" stroke="#222" stroke-width="0.25">His</text>
<text x="97.50" y="692.92" font-size="8.8" text-anchor="start" fill="#222" stroke="#222" stroke-width="0.25">Asp</text>
<text x="136.50" y="715.22" font-size="8.8" text-anchor="start" fill="#222" stroke="#222" stroke-width="0.25">Ala</text>
<text x="155.00" y="715.22" font-size="8.8" text-anchor="start" fill="#222" stroke="#222" stroke-width="0.25">Lac</text>
<text x="155.00" y="722.72" font-size="8.8" text-anchor="start" fill="#222" stroke="#222" stroke-width="0.25">NH4</text>
<text x="141.50" y="728.12" font-size="8.8" text-anchor="start" fill="#222" stroke="#222" stroke-width="0.25">Glu</text>
<circle cx="21.10" cy="680.40" r="4.0" fill="#ff2a10" stroke="#111" stroke-width="0.8"/>
<circle cx="242.30" cy="680.50" r="4.0" fill="#1010ee" stroke="#111" stroke-width="0.8"/>
<text x="27.00" y="676.09" font-size="10.4" font-weight="bold" text-anchor="start" fill="#000" textLength="15.2" lengthAdjust="spacingAndGlyphs">EP</text>
<text x="224.60" y="676.39" font-size="10.4" font-weight="bold" text-anchor="start" fill="#000" textLength="14.4" lengthAdjust="spacingAndGlyphs">LP</text>
<text x="245.20" y="677.18" font-size="9.8" font-weight="bold" text-anchor="start" fill="#222" textLength="25.8" lengthAdjust="spacingAndGlyphs">pq[1]</text>
<defs><linearGradient id="cb" x1="0" y1="0" x2="0" y2="1"><stop offset="0.000" stop-color="#4a5ac5"/><stop offset="0.050" stop-color="#576ed6"/><stop offset="0.100" stop-color="#6682e5"/><stop offset="0.150" stop-color="#7695f1"/><stop offset="0.200" stop-color="#86a6f9"/><stop offset="0.250" stop-color="#96b6fe"/><stop offset="0.300" stop-color="#a6c3ff"/><stop offset="0.350" stop-color="#b6cefc"/><stop offset="0.400" stop-color="#c5d7f6"/><stop offset="0.450" stop-color="#d3ddec"/><stop offset="0.500" stop-color="#e0dfdf"/><stop offset="0.550" stop-color="#ebd9cf"/><stop offset="0.600" stop-color="#f3cfbd"/><stop offset="0.650" stop-color="#f7c2aa"/><stop offset="0.700" stop-color="#f8b397"/><stop offset="0.750" stop-color="#f5a184"/><stop offset="0.800" stop-color="#ef8e74"/><stop offset="0.850" stop-color="#e67863"/><stop offset="0.900" stop-color="#d96053"/><stop offset="0.950" stop-color="#ca4344"/><stop offset="1.000" stop-color="#ba1838"/></linearGradient></defs>
<rect x="281.20" y="575.90" width="10.70" height="208.70" fill="url(#cb)" stroke="#666" stroke-width="0.4"/>
<line x1="291.90" y1="604.30" x2="294.60" y2="604.30" stroke="#222" stroke-width="0.8"/>
<text x="298.60" y="607.32" font-size="8.5" text-anchor="start" fill="#2a2a2a" stroke="#2a2a2a" stroke-width="0.25">0.4</text>
<line x1="291.90" y1="642.60" x2="294.60" y2="642.60" stroke="#222" stroke-width="0.8"/>
<text x="298.60" y="645.62" font-size="8.5" text-anchor="start" fill="#2a2a2a" stroke="#2a2a2a" stroke-width="0.25">0.2</text>
<line x1="291.90" y1="680.30" x2="294.60" y2="680.30" stroke="#222" stroke-width="0.8"/>
<text x="298.60" y="683.32" font-size="8.5" text-anchor="start" fill="#2a2a2a" stroke="#2a2a2a" stroke-width="0.25">0.0</text>
<line x1="291.90" y1="718.60" x2="294.60" y2="718.60" stroke="#222" stroke-width="0.8"/>
<text x="298.60" y="721.62" font-size="8.5" text-anchor="start" fill="#2a2a2a" stroke="#2a2a2a" stroke-width="0.25">−0.2</text>
<line x1="291.90" y1="756.50" x2="294.60" y2="756.50" stroke="#222" stroke-width="0.8"/>
<text x="298.60" y="759.52" font-size="8.5" text-anchor="start" fill="#2a2a2a" stroke="#2a2a2a" stroke-width="0.25">−0.4</text>
<text x="330.30" y="680.30" font-size="10.2" font-weight="bold" text-anchor="middle" fill="#111" transform="rotate(-90 330.30 680.30)" textLength="128.5" lengthAdjust="spacingAndGlyphs">Predictive loading (pq[1])</text>
<text x="539.60" y="572.50" font-size="13.2" font-weight="bold" text-anchor="middle" fill="#000">VIP score</text>
<line x1="400.40" y1="637.50" x2="678.60" y2="637.50" stroke="#444" stroke-width="0.8" stroke-dasharray="2,1.6"/>
<rect x="402.20" y="623.91" width="3.20" height="105.39" fill="#ff1a1a" stroke="none" stroke-width="1"/>
<rect x="407.00" y="637.50" width="3.10" height="91.80" fill="#1a1aff" stroke="none" stroke-width="1"/>
<line x1="406.20" y1="729.30" x2="406.20" y2="735.30" stroke="#000" stroke-width="1.5"/>
<text x="409.90" y="737.60" font-size="10.6" font-weight="bold" text-anchor="end" fill="#000" transform="rotate(-90 409.90 737.60)">Pro</text>
<rect x="414.36" y="625.02" width="3.20" height="104.28" fill="#ff1a1a" stroke="none" stroke-width="1"/>
<rect x="419.16" y="631.26" width="3.10" height="98.04" fill="#1a1aff" stroke="none" stroke-width="1"/>
<line x1="418.36" y1="729.30" x2="418.36" y2="735.30" stroke="#000" stroke-width="1.5"/>
<text x="422.06" y="737.60" font-size="10.6" font-weight="bold" text-anchor="end" fill="#000" transform="rotate(-90 422.06 737.60)">Phe</text>
<rect x="426.52" y="625.02" width="3.20" height="104.28" fill="#ff1a1a" stroke="none" stroke-width="1"/>
<rect x="431.32" y="623.91" width="3.10" height="105.39" fill="#1a1aff" stroke="none" stroke-width="1"/>
<line x1="430.52" y1="729.30" x2="430.52" y2="735.30" stroke="#000" stroke-width="1.5"/>
<text x="434.22" y="737.60" font-size="10.6" font-weight="bold" text-anchor="end" fill="#000" transform="rotate(-90 434.22 737.60)">Asn</text>
<rect x="438.68" y="625.75" width="3.20" height="103.55" fill="#ff1a1a" stroke="none" stroke-width="1"/>
<rect x="443.48" y="619.69" width="3.10" height="109.61" fill="#1a1aff" stroke="none" stroke-width="1"/>
<line x1="442.68" y1="729.30" x2="442.68" y2="735.30" stroke="#000" stroke-width="1.5"/>
<text x="446.38" y="737.60" font-size="10.6" font-weight="bold" text-anchor="end" fill="#000" transform="rotate(-90 446.38 737.60)">Gln</text>
<rect x="450.84" y="625.75" width="3.20" height="103.55" fill="#ff1a1a" stroke="none" stroke-width="1"/>
<rect x="455.64" y="613.91" width="3.10" height="115.39" fill="#1a1aff" stroke="none" stroke-width="1"/>
<line x1="454.84" y1="729.30" x2="454.84" y2="735.30" stroke="#000" stroke-width="1.5"/>
<text x="458.54" y="737.60" font-size="10.6" font-weight="bold" text-anchor="end" fill="#000" transform="rotate(-90 458.54 737.60)">Glc</text>
<rect x="463.00" y="625.75" width="3.20" height="103.55" fill="#ff1a1a" stroke="none" stroke-width="1"/>
<rect x="467.80" y="619.69" width="3.10" height="109.61" fill="#1a1aff" stroke="none" stroke-width="1"/>
<line x1="467.00" y1="729.30" x2="467.00" y2="735.30" stroke="#000" stroke-width="1.5"/>
<text x="470.70" y="737.60" font-size="10.6" font-weight="bold" text-anchor="end" fill="#000" transform="rotate(-90 470.70 737.60)">Cys</text>
<rect x="475.16" y="626.67" width="3.20" height="102.63" fill="#ff1a1a" stroke="none" stroke-width="1"/>
<rect x="479.96" y="620.06" width="3.10" height="109.24" fill="#1a1aff" stroke="none" stroke-width="1"/>
<line x1="479.16" y1="729.30" x2="479.16" y2="735.30" stroke="#000" stroke-width="1.5"/>
<text x="482.86" y="737.60" font-size="10.6" font-weight="bold" text-anchor="end" fill="#000" transform="rotate(-90 482.86 737.60)">NH4</text>
<rect x="487.32" y="627.95" width="3.20" height="101.35" fill="#ff1a1a" stroke="none" stroke-width="1"/>
<rect x="492.12" y="651.27" width="3.10" height="78.03" fill="#1a1aff" stroke="none" stroke-width="1"/>
<line x1="491.32" y1="729.30" x2="491.32" y2="735.30" stroke="#000" stroke-width="1.5"/>
<text x="495.02" y="737.60" font-size="10.6" font-weight="bold" text-anchor="end" fill="#000" transform="rotate(-90 495.02 737.60)">* Tyr</text>
<rect x="499.48" y="628.87" width="3.20" height="100.43" fill="#ff1a1a" stroke="none" stroke-width="1"/>
<rect x="504.28" y="619.87" width="3.10" height="109.43" fill="#1a1aff" stroke="none" stroke-width="1"/>
<line x1="503.48" y1="729.30" x2="503.48" y2="735.30" stroke="#000" stroke-width="1.5"/>
<text x="507.18" y="737.60" font-size="10.6" font-weight="bold" text-anchor="end" fill="#000" transform="rotate(-90 507.18 737.60)">Lac</text>
<rect x="511.64" y="629.42" width="3.20" height="99.88" fill="#ff1a1a" stroke="none" stroke-width="1"/>
<rect x="516.44" y="617.30" width="3.10" height="112.00" fill="#1a1aff" stroke="none" stroke-width="1"/>
<line x1="515.64" y1="729.30" x2="515.64" y2="735.30" stroke="#000" stroke-width="1.5"/>
<text x="519.34" y="737.60" font-size="10.6" font-weight="bold" text-anchor="end" fill="#000" transform="rotate(-90 519.34 737.60)">Ala</text>
<rect x="523.80" y="629.97" width="3.20" height="99.33" fill="#ff1a1a" stroke="none" stroke-width="1"/>
<rect x="528.60" y="624.46" width="3.10" height="104.84" fill="#1a1aff" stroke="none" stroke-width="1"/>
<line x1="527.80" y1="729.30" x2="527.80" y2="735.30" stroke="#000" stroke-width="1.5"/>
<text x="531.50" y="737.60" font-size="10.6" font-weight="bold" text-anchor="end" fill="#000" transform="rotate(-90 531.50 737.60)">Val</text>
<rect x="535.96" y="631.99" width="3.20" height="97.31" fill="#ff1a1a" stroke="none" stroke-width="1"/>
<rect x="540.76" y="648.52" width="3.10" height="80.78" fill="#1a1aff" stroke="none" stroke-width="1"/>
<line x1="539.96" y1="729.30" x2="539.96" y2="735.30" stroke="#000" stroke-width="1.5"/>
<text x="543.66" y="737.60" font-size="10.6" font-weight="bold" text-anchor="end" fill="#000" transform="rotate(-90 543.66 737.60)">*Met</text>
<rect x="548.12" y="632.73" width="3.20" height="96.57" fill="#ff1a1a" stroke="none" stroke-width="1"/>
<rect x="552.92" y="617.40" width="3.10" height="111.90" fill="#1a1aff" stroke="none" stroke-width="1"/>
<line x1="552.12" y1="729.30" x2="552.12" y2="735.30" stroke="#000" stroke-width="1.5"/>
<text x="555.82" y="737.60" font-size="10.6" font-weight="bold" text-anchor="end" fill="#000" transform="rotate(-90 555.82 737.60)">Glu</text>
<rect x="560.28" y="636.40" width="3.20" height="92.90" fill="#ff1a1a" stroke="none" stroke-width="1"/>
<rect x="565.08" y="660.27" width="3.10" height="69.03" fill="#1a1aff" stroke="none" stroke-width="1"/>
<line x1="564.28" y1="729.30" x2="564.28" y2="735.30" stroke="#000" stroke-width="1.5"/>
<text x="567.98" y="737.60" font-size="10.6" font-weight="bold" text-anchor="end" fill="#000" transform="rotate(-90 567.98 737.60)">* Trp</text>
<rect x="572.44" y="639.89" width="3.20" height="89.41" fill="#ff1a1a" stroke="none" stroke-width="1"/>
<rect x="577.24" y="655.31" width="3.10" height="73.99" fill="#1a1aff" stroke="none" stroke-width="1"/>
<line x1="576.44" y1="729.30" x2="576.44" y2="735.30" stroke="#000" stroke-width="1.5"/>
<text x="580.14" y="737.60" font-size="10.6" font-weight="bold" text-anchor="end" fill="#000" transform="rotate(-90 580.14 737.60)">Asp</text>
<rect x="584.60" y="643.01" width="3.20" height="86.29" fill="#ff1a1a" stroke="none" stroke-width="1"/>
<rect x="589.40" y="661.28" width="3.10" height="68.02" fill="#1a1aff" stroke="none" stroke-width="1"/>
<line x1="588.60" y1="729.30" x2="588.60" y2="735.30" stroke="#000" stroke-width="1.5"/>
<text x="592.30" y="737.60" font-size="10.6" font-weight="bold" text-anchor="end" fill="#000" transform="rotate(-90 592.30 737.60)">Ser</text>
<rect x="596.76" y="648.52" width="3.20" height="80.78" fill="#ff1a1a" stroke="none" stroke-width="1"/>
<rect x="601.56" y="646.86" width="3.10" height="82.44" fill="#1a1aff" stroke="none" stroke-width="1"/>
<line x1="600.76" y1="729.30" x2="600.76" y2="735.30" stroke="#000" stroke-width="1.5"/>
<text x="604.46" y="737.60" font-size="10.6" font-weight="bold" text-anchor="end" fill="#000" transform="rotate(-90 604.46 737.60)">Gly</text>
<rect x="608.92" y="658.98" width="3.20" height="70.32" fill="#ff1a1a" stroke="none" stroke-width="1"/>
<rect x="613.72" y="659.53" width="3.10" height="69.77" fill="#1a1aff" stroke="none" stroke-width="1"/>
<line x1="612.92" y1="729.30" x2="612.92" y2="735.30" stroke="#000" stroke-width="1.5"/>
<text x="616.62" y="737.60" font-size="10.6" font-weight="bold" text-anchor="end" fill="#000" transform="rotate(-90 616.62 737.60)">Arg</text>
<rect x="621.08" y="658.98" width="3.20" height="70.32" fill="#ff1a1a" stroke="none" stroke-width="1"/>
<rect x="625.88" y="660.27" width="3.10" height="69.03" fill="#1a1aff" stroke="none" stroke-width="1"/>
<line x1="625.08" y1="729.30" x2="625.08" y2="735.30" stroke="#000" stroke-width="1.5"/>
<text x="628.78" y="737.60" font-size="10.6" font-weight="bold" text-anchor="end" fill="#000" transform="rotate(-90 628.78 737.60)">Lys</text>
<rect x="633.24" y="660.27" width="3.20" height="69.03" fill="#ff1a1a" stroke="none" stroke-width="1"/>
<rect x="638.04" y="664.03" width="3.10" height="65.27" fill="#1a1aff" stroke="none" stroke-width="1"/>
<line x1="637.24" y1="729.30" x2="637.24" y2="735.30" stroke="#000" stroke-width="1.5"/>
<text x="640.94" y="737.60" font-size="10.6" font-weight="bold" text-anchor="end" fill="#000" transform="rotate(-90 640.94 737.60)">Thr</text>
<rect x="645.40" y="664.03" width="3.20" height="65.27" fill="#ff1a1a" stroke="none" stroke-width="1"/>
<rect x="650.20" y="658.06" width="3.10" height="71.24" fill="#1a1aff" stroke="none" stroke-width="1"/>
<line x1="649.40" y1="729.30" x2="649.40" y2="735.30" stroke="#000" stroke-width="1.5"/>
<text x="653.10" y="737.60" font-size="10.6" font-weight="bold" text-anchor="end" fill="#000" transform="rotate(-90 653.10 737.60)">Leu</text>
<rect x="657.56" y="664.03" width="3.20" height="65.27" fill="#ff1a1a" stroke="none" stroke-width="1"/>
<rect x="662.36" y="657.33" width="3.10" height="71.97" fill="#1a1aff" stroke="none" stroke-width="1"/>
<line x1="661.56" y1="729.30" x2="661.56" y2="735.30" stroke="#000" stroke-width="1.5"/>
<text x="665.26" y="737.60" font-size="10.6" font-weight="bold" text-anchor="end" fill="#000" transform="rotate(-90 665.26 737.60)">Ile</text>
<rect x="669.72" y="664.21" width="3.20" height="65.09" fill="#ff1a1a" stroke="none" stroke-width="1"/>
<rect x="674.52" y="639.89" width="3.10" height="89.41" fill="#1a1aff" stroke="none" stroke-width="1"/>
<line x1="673.72" y1="729.30" x2="673.72" y2="735.30" stroke="#000" stroke-width="1.5"/>
<text x="677.42" y="737.60" font-size="10.6" font-weight="bold" text-anchor="end" fill="#000" transform="rotate(-90 677.42 737.60)">His</text>
<line x1="400.40" y1="591.50" x2="400.40" y2="730.30" stroke="#000" stroke-width="2"/>
<line x1="399.40" y1="729.30" x2="679.80" y2="729.30" stroke="#000" stroke-width="2"/>
<line x1="395.20" y1="591.50" x2="400.40" y2="591.50" stroke="#000" stroke-width="1.6"/>
<text x="393.50" y="595.12" font-size="10.2" font-weight="bold" text-anchor="end" fill="#000">1.5</text>
<line x1="395.20" y1="637.60" x2="400.40" y2="637.60" stroke="#000" stroke-width="1.6"/>
<text x="393.50" y="641.22" font-size="10.2" font-weight="bold" text-anchor="end" fill="#000">1.0</text>
<line x1="395.20" y1="683.50" x2="400.40" y2="683.50" stroke="#000" stroke-width="1.6"/>
<text x="393.50" y="687.12" font-size="10.2" font-weight="bold" text-anchor="end" fill="#000">0.5</text>
<line x1="395.20" y1="729.30" x2="400.40" y2="729.30" stroke="#000" stroke-width="1.6"/>
<text x="393.50" y="732.92" font-size="10.2" font-weight="bold" text-anchor="end" fill="#000">0.0</text>
<text x="539.30" y="775.60" font-size="11.3" font-weight="bold" text-anchor="middle" fill="#000">Metabolites</text>
<text x="371.50" y="660.20" font-size="11.4" font-weight="bold" text-anchor="middle" fill="#000" transform="rotate(-90 371.50 660.20)">VIP score</text>
</svg></body></html>
